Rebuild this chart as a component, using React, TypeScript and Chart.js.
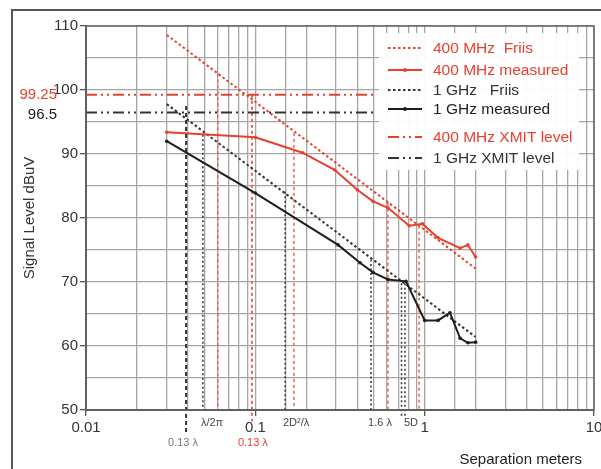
import React, { useEffect, useRef } from 'react';
import { Chart, registerables } from 'chart.js';

Chart.register(...registerables);

const RED = '#e8402f';
const BLACK = '#1e1e1e';
const GRAY_TXT = '#333333';
const FONT = '"Liberation Sans", Arial, sans-serif';

// axis ranges / tick labels
const xMin = 0.01;
const xMax = 10;
const yMin = 50;
const yMax = 110;
const xTickLabels = ['0.01', '0.1', '1', '10'];

// Friis lines (end points)
const friis400X = [0.03, 2];
const friis400Y = [108.6, 72.1];
const friis1GX = [0.03, 2];
const friis1GY = [97.8, 61.4];

// measured
const meas400X = [0.03, 0.1, 0.19, 0.295, 0.4, 0.495, 0.607, 0.81, 0.97, 1.2, 1.62, 1.8, 2.0];
const meas400Y = [93.4, 92.6, 90.2, 87.5, 84.4, 82.6, 81.6, 78.8, 79.1, 76.9, 75.3, 75.8, 73.9];
const meas1GX = [0.03, 0.1, 0.308, 0.415, 0.495, 0.607, 0.776, 1.0, 1.2, 1.41, 1.62, 1.8, 2.0];
const meas1GY = [92.0, 83.9, 75.8, 73.0, 71.5, 70.4, 70.1, 64.0, 64.0, 65.2, 61.2, 60.5, 60.6];

// transmit levels (horizontal, from x start to x end)
const xmit400 = 99.25;
const xmit1G = 96.5;
const xmitXStart = 0.01;
const xmitXEnd = 0.52;

// vertical reference lines
const refX = [0.039, 0.049, 0.060, 0.0955, 0.15, 0.169, 0.482, 0.607, 0.73, 0.765, 0.927];
const refTop = [97.5, 93.0, 102.6, 99.25, 84.1, 93.3, 73.5, 82.4, 69.8, 69.8, 78.8];
const refBottom = [46.5, 50, 50, 48.2, 50, 50, 50, 50, 49, 49, 50];
const refKind = ['kd', 'k', 'r', 'rd', 'k', 'r', 'k', 'r', 'k', 'k', 'r'];

// labels under the axis
const refLabelText = ['0.13 λ', 'λ/2π', '0.13 λ', '2D²/λ', '1.6 λ', '5D'];
const refLabelX = [0.0374, 0.0555, 0.0967, 0.174, 0.545, 0.83];
const refLabelRow = [2, 1, 2, 1, 1, 1];
const refLabelColor = ['#777777', '#444444', RED, '#444444', '#444444', '#444444'];

// legend
const legendLabels = ['400 MHz  Friis', '400 MHz measured', '1 GHz   Friis', '1 GHz measured', '400 MHz XMIT level', '1 GHz XMIT level'];
const legendColors = [RED, RED, '#333333', BLACK, RED, '#333333'];
const legendStyles = ['dot', 'solid', 'dot', 'solid', 'dashdot', 'dashdot'];

const DOT = [2.5, 2.5];
const DASHDOT = [11, 4, 2, 4, 2, 4];

function pts(xs: number[], ys: number[]) {
  return xs.map((x, i) => ({ x, y: ys[i] }));
}

function isDecade(v: number) {
  const l = Math.log10(v);
  return Math.abs(l - Math.round(l)) < 1e-6;
}

const overlayPlugin = {
  id: 'overlay',
  afterDraw(chart: any) {
    const ctx = chart.ctx;
    const ca = chart.chartArea;
    const xs = chart.scales.x;
    const ys = chart.scales.y;
    ctx.save();

    // legend box
    const bx = 379, by = 33, bw = 200, bh = 137;
    ctx.fillStyle = 'rgba(255,255,255,0.94)';
    ctx.fillRect(bx, by, bw, bh);
    const rowY = [48, 70, 90, 109, 137, 158];
    ctx.font = `15.5px ${FONT}`;
    ctx.textBaseline = 'middle';
    ctx.textAlign = 'left';
    legendLabels.forEach((lab, i) => {
      const y = rowY[i];
      const st = legendStyles[i];
      ctx.strokeStyle = legendColors[i];
      ctx.lineWidth = 2;
      ctx.setLineDash(st === 'dot' ? DOT : st === 'dashdot' ? DASHDOT : []);
      ctx.beginPath();
      ctx.moveTo(388, y);
      ctx.lineTo(422, y);
      ctx.stroke();
      ctx.setLineDash([]);
      if (st === 'solid') {
        ctx.fillStyle = legendColors[i];
        ctx.beginPath();
        ctx.arc(405, y, 2, 0, Math.PI * 2);
        ctx.fill();
      }
      ctx.fillStyle = legendColors[i];
      ctx.fillText(lab, 433, y + 1);
    });

    // plot border
    ctx.strokeStyle = '#666666';
    ctx.lineWidth = 1.5;
    ctx.strokeRect(ca.left, ca.top, ca.right - ca.left, ca.bottom - ca.top);

    // outer frame
    ctx.strokeStyle = '#555555';
    ctx.lineWidth = 2;
    ctx.beginPath();
    ctx.moveTo(12, chart.height);
    ctx.lineTo(12, 10);
    ctx.lineTo(chart.width, 10);
    ctx.stroke();

    // xmit level labels
    ctx.font = `15px ${FONT}`;
    ctx.textAlign = 'right';
    ctx.fillStyle = RED;
    ctx.fillText(String(xmit400), 57, ys.getPixelForValue(xmit400));
    ctx.fillStyle = '#222222';
    ctx.fillText(String(xmit1G), 57, ys.getPixelForValue(xmit1G) + 2);

    // y title
    ctx.save();
    ctx.translate(30, (ca.top + ca.bottom) / 2);
    ctx.rotate(-Math.PI / 2);
    ctx.textAlign = 'center';
    ctx.fillStyle = GRAY_TXT;
    ctx.font = `15px ${FONT}`;
    ctx.fillText('Signal Level dBuV', 0, 0);
    ctx.restore();

    // x title
    ctx.textAlign = 'right';
    ctx.fillStyle = '#222222';
    ctx.font = `15px ${FONT}`;
    ctx.fillText('Separation meters', 582, 460);

    // reference labels
    ctx.font = `11px ${FONT}`;
    ctx.textAlign = 'center';
    refLabelText.forEach((t, i) => {
      ctx.fillStyle = refLabelColor[i];
      const y = ca.bottom + (refLabelRow[i] === 1 ? 13 : 33);
      ctx.fillText(t, xs.getPixelForValue(refLabelX[i]), y);
    });

    ctx.restore();
  },
};

export default function App() {
  const ref = useRef<HTMLCanvasElement | null>(null);
  useEffect(() => {
    if (!ref.current) return;
    const datasets: any[] = [];
    datasets.push({
      data: pts(meas400X, meas400Y), borderColor: RED, backgroundColor: RED, borderWidth: 2,
      pointRadius: 1.8, pointBorderWidth: 0, pointBackgroundColor: RED, tension: 0,
    });
    datasets.push({
      data: pts(meas1GX, meas1GY), borderColor: BLACK, backgroundColor: BLACK, borderWidth: 2,
      pointRadius: 1.8, pointBorderWidth: 0, pointBackgroundColor: BLACK, tension: 0,
    });
    datasets.push({
      data: pts(friis400X, friis400Y), borderColor: RED, borderWidth: 2, borderDash: DOT, pointRadius: 0,
    });
    datasets.push({
      data: pts(friis1GX, friis1GY), borderColor: '#333333', borderWidth: 2, borderDash: DOT, pointRadius: 0,
    });
    datasets.push({
      data: [{ x: xmitXStart, y: xmit400 }, { x: xmitXEnd, y: xmit400 }], borderColor: RED, borderWidth: 2,
      borderDash: DASHDOT, pointRadius: 0,
    });
    datasets.push({
      data: [{ x: xmitXStart, y: xmit1G }, { x: xmitXEnd, y: xmit1G }], borderColor: '#333333', borderWidth: 2,
      borderDash: DASHDOT, pointRadius: 0,
    });
    refX.forEach((x, i) => {
      const k = refKind[i];
      const red = k[0] === 'r';
      datasets.push({
        data: [{ x, y: refTop[i] }, { x, y: refBottom[i] }],
        borderColor: red ? '#f0604a' : '#333333',
        borderWidth: k.length > 1 ? 2 : 1.5,
        borderDash: red ? [3, 3] : k === 'kd' ? [4, 3] : [2, 2.5],
        pointRadius: 0,
        clip: false,
      });
    });

    const chart = new Chart(ref.current, {
      type: 'line',
      data: { datasets },
      options: {
        responsive: false,
        animation: false,
        devicePixelRatio: 1,
        layout: { padding: { top: 26, right: 7, left: 0, bottom: 29 } },
        plugins: { legend: { display: false }, tooltip: { enabled: false } },
        scales: {
          x: {
            type: 'logarithmic',
            min: xMin,
            max: xMax,
            afterFit: (s: any) => { s.height = 30; s.paddingLeft = 0; s.paddingRight = 0; },
            ticks: {
              autoSkip: false,
              maxRotation: 0,
              padding: 3,
              color: '#333333',
              font: { size: 15, family: FONT },
              callback: (v: any) => {
                const n = Number(v);
                return isDecade(n) ? xTickLabels[Math.round(Math.log10(n)) + 2] : '';
              },
            },
            grid: {
              color: '#a5a5a5',
              lineWidth: 1.3,
              tickLength: 6,
              tickColor: (c: any) => (c.tick && isDecade(c.tick.value) ? '#555555' : 'transparent'),
            },
            border: { color: '#555555', width: 2 },
          },
          y: {
            type: 'linear',
            min: yMin,
            max: yMax,
            afterFit: (s: any) => { s.width = 86; s.paddingTop = 0; s.paddingBottom = 0; },
            ticks: {
              stepSize: 5,
              padding: 2,
              color: '#333333',
              font: { size: 15, family: FONT },
              callback: (v: any) => (Number(v) % 10 === 0 ? String(v) : ''),
            },
            grid: {
              color: '#a5a5a5',
              lineWidth: 1.3,
              tickLength: 6,
              tickColor: (c: any) => (c.tick && c.tick.value % 10 === 0 ? '#555555' : 'transparent'),
            },
            border: { color: '#555555', width: 2 },
          },
        },
      },
      plugins: [overlayPlugin],
    } as any);
    return () => chart.destroy();
  }, []);

  return (
    <canvas
      ref={ref}
      width={601}
      height={469}
      style={{ position: 'absolute', left: 0, top: 0, width: 601, height: 469 }}
    />
  );
}
